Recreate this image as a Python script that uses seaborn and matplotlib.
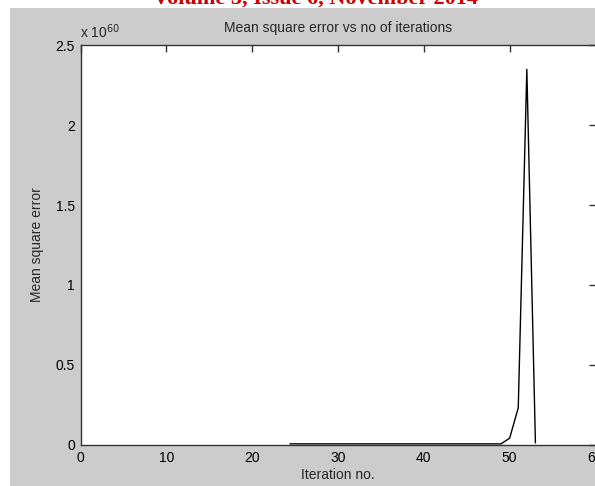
import matplotlib
matplotlib.use("Agg")
import matplotlib.pyplot as plt
import seaborn as sns
import pandas as pd
from matplotlib.patches import Rectangle

# Data (mean square error in units of 1e60)
iterations = [24.4, 30, 35, 40, 45, 49, 50, 51, 52, 53]
mse = [0.004, 0.004, 0.004, 0.004, 0.004, 0.004, 0.04, 0.23, 2.35, 0.01]
x_ticks = [0, 10, 20, 30, 40, 50, 60]
y_ticks = [0, 0.5, 1, 1.5, 2, 2.5]
y_tick_labels = ["0", "0.5", "1", "1.5", "2", "2.5"]

sns.set_style("white")
plt.rcParams["font.family"] = ["Liberation Sans", "DejaVu Sans"]

W, H = 595, 486
fig = plt.figure(figsize=(W / 100, H / 100), dpi=100, facecolor="white")

# MATLAB-style gray figure background
fig.patches.append(Rectangle((10 / W, 0), 1 - 10 / W, (H - 8) / H,
                             transform=fig.transFigure, facecolor="#cccccc",
                             edgecolor="none", zorder=-10))
# Cut-off journal header
fig.text(315 / W, (H - 4) / H, "Volume 3, Issue 6, November 2014", color="#cc0000",
         fontsize=16, fontweight="bold", family=["Liberation Serif", "DejaVu Serif"],
         ha="center", va="baseline", zorder=-20)

ax = fig.add_axes([80.5 / W, (H - 444.5) / H, (W - 80.5 + 0.5) / W, 399 / H])
df = pd.DataFrame({"Iteration": iterations, "MSE": mse})
sns.lineplot(data=df, x="Iteration", y="MSE", ax=ax, color="black", linewidth=1.0)

ax.set_facecolor("white")
ax.set_xlim(0, 60)
ax.set_ylim(0, 2.5)
ax.set_xticks(x_ticks)
ax.set_yticks(y_ticks)
ax.set_yticklabels(y_tick_labels)
for s in ax.spines.values():
    s.set_visible(True)
    s.set_color("#333333")
    s.set_linewidth(1.0)
ax.tick_params(direction="in", length=5, width=1, color="#333333",
               top=True, right=True, labelsize=10, labelcolor="black")
ax.tick_params(axis="x", pad=5)
ax.tick_params(axis="y", pad=4)
ax.set_xlabel("Iteration no.", fontsize=10, labelpad=2)
ax.set_ylabel("Mean square error", fontsize=10, labelpad=8)
ax.set_title("Mean square error vs no of iterations", fontsize=10, pad=10)
ax.text(0.0, 1.012, r"x 10$^{60}$", transform=ax.transAxes, fontsize=10,
        ha="left", va="bottom")

fig.savefig("out.png", dpi=100, facecolor=fig.get_facecolor())
